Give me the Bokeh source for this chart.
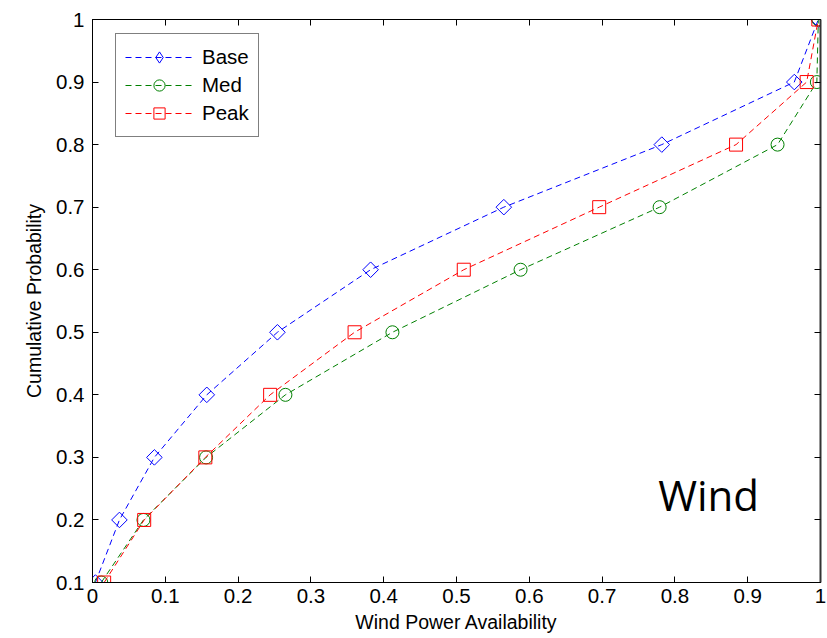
import numpy as np
from bokeh.plotting import figure
from bokeh.models import Range1d, LinearAxis, FixedTicker, Label, Legend, LegendItem
from bokeh.embed import file_html
from bokeh.resources import INLINE

# Cumulative probability levels
prob = [0.1, 0.2, 0.3, 0.4, 0.5, 0.6, 0.7, 0.8, 0.9, 1.0]
# Wind power availability per scenario
base = [0.004, 0.037, 0.085, 0.157, 0.254, 0.382, 0.565, 0.782, 0.964, 0.997]
med = [0.012, 0.070, 0.156, 0.265, 0.412, 0.588, 0.779, 0.941, 0.995, 0.997]
peak = [0.016, 0.071, 0.155, 0.244, 0.360, 0.510, 0.696, 0.884, 0.981, 0.997]

x_ticks = [0, 0.1, 0.2, 0.3, 0.4, 0.5, 0.6, 0.7, 0.8, 0.9, 1.0]
y_ticks = [0.1, 0.2, 0.3, 0.4, 0.5, 0.6, 0.7, 0.8, 0.9, 1.0]
x_tick_labels = ["0", "0.1", "0.2", "0.3", "0.4", "0.5", "0.6", "0.7", "0.8", "0.9", "1"]
y_tick_labels = ["0.1", "0.2", "0.3", "0.4", "0.5", "0.6", "0.7", "0.8", "0.9", "1"]

FONT = "Liberation Sans"

p = figure(width=826, height=638, output_backend="svg", toolbar_location=None,
           x_range=Range1d(0, 1), y_range=Range1d(0.1, 1.0),
           min_border_left=92, min_border_right=6, min_border_top=19, min_border_bottom=56)
# range used only for the legend's marker samples (they fall outside the frame)
p.extra_x_ranges = {"legend_only": Range1d(5, 6)}
p.grid.visible = False
p.outline_line_color = "black"
p.outline_line_width = 1
p.background_fill_color = "white"
p.border_fill_color = "white"

def style_axis(ax):
    ax.major_tick_in = 6
    ax.major_tick_out = 0
    ax.minor_tick_in = 0
    ax.minor_tick_out = 0
    ax.axis_line_color = "black"
    ax.major_tick_line_color = "black"
    ax.major_label_text_font = FONT
    ax.major_label_text_font_size = "20.5px"
    ax.major_label_text_color = "black"

xax = p.xaxis[0]
yax = p.yaxis[0]
xax.ticker = FixedTicker(ticks=x_ticks)
yax.ticker = FixedTicker(ticks=y_ticks)
xax.major_label_overrides = {t: l for t, l in zip(x_ticks, x_tick_labels)}
yax.major_label_overrides = {t: l for t, l in zip(y_ticks, y_tick_labels)}
style_axis(xax)
style_axis(yax)
xax.major_label_standoff = 6
yax.major_label_standoff = 8
xax.axis_label = "Wind Power Availability"
yax.axis_label = "Cumulative Probability"
for ax in (xax, yax):
    ax.axis_label_text_font = FONT
    ax.axis_label_text_font_size = "19.5px"
    ax.axis_label_text_font_style = "normal"
    ax.axis_label_text_color = "black"
xax.axis_label_standoff = 5
yax.axis_label_standoff = 8

top = LinearAxis(ticker=FixedTicker(ticks=x_ticks))
right = LinearAxis(ticker=FixedTicker(ticks=y_ticks))
style_axis(top)
style_axis(right)
top.major_label_overrides = {t: "" for t in x_ticks}
right.major_label_overrides = {t: "" for t in y_ticks}
top.major_label_standoff = 0
right.major_label_standoff = 0
right.axis_line_color = "#333333"
right.axis_line_width = 2
p.add_layout(top, "above")
p.add_layout(right, "right")

DASH = "6 4"
series = [("Base", base, "#0000FF", "square", 11, 45, "diamond"),
          ("Med", med, "#008000", "circle", 13, 0, "circle"),
          ("Peak", peak, "#FF0000", "square", 13, 0, "square")]
items = []
for name, xs, col, marker, size, ang, leg_marker in series:
    ln = p.line(xs, prob, line_color=col, line_dash=DASH, line_width=1)
    p.scatter(xs, prob, marker=marker, size=size, angle=np.deg2rad(ang),
              line_color=col, fill_color=None, line_width=1)
    lg = p.scatter(xs, prob, marker=leg_marker, size=size, x_range_name="legend_only",
                   line_color=col, fill_color=None, line_width=1)
    items.append(LegendItem(label=name, renderers=[ln, lg]))

leg = Legend(items=items, location=(23, 445))
leg.margin = 0
leg.border_line_color = "black"
leg.border_line_width = 1
leg.label_text_font = FONT
leg.label_text_font_size = "20.5px"
leg.label_text_color = "black"
leg.glyph_width = 68
leg.glyph_height = 28
leg.label_height = 28
leg.spacing = 0
leg.padding = 9
leg.label_standoff = 9
leg.background_fill_color = "white"
p.add_layout(leg, "center")

p.add_layout(Label(x=0.777, y=0.24, text="Wind", text_font="Open Sans",
                   text_font_size="42px", text_color="black",
                   text_baseline="alphabetic"))

open("out.html", "w").write(file_html(p, INLINE))
